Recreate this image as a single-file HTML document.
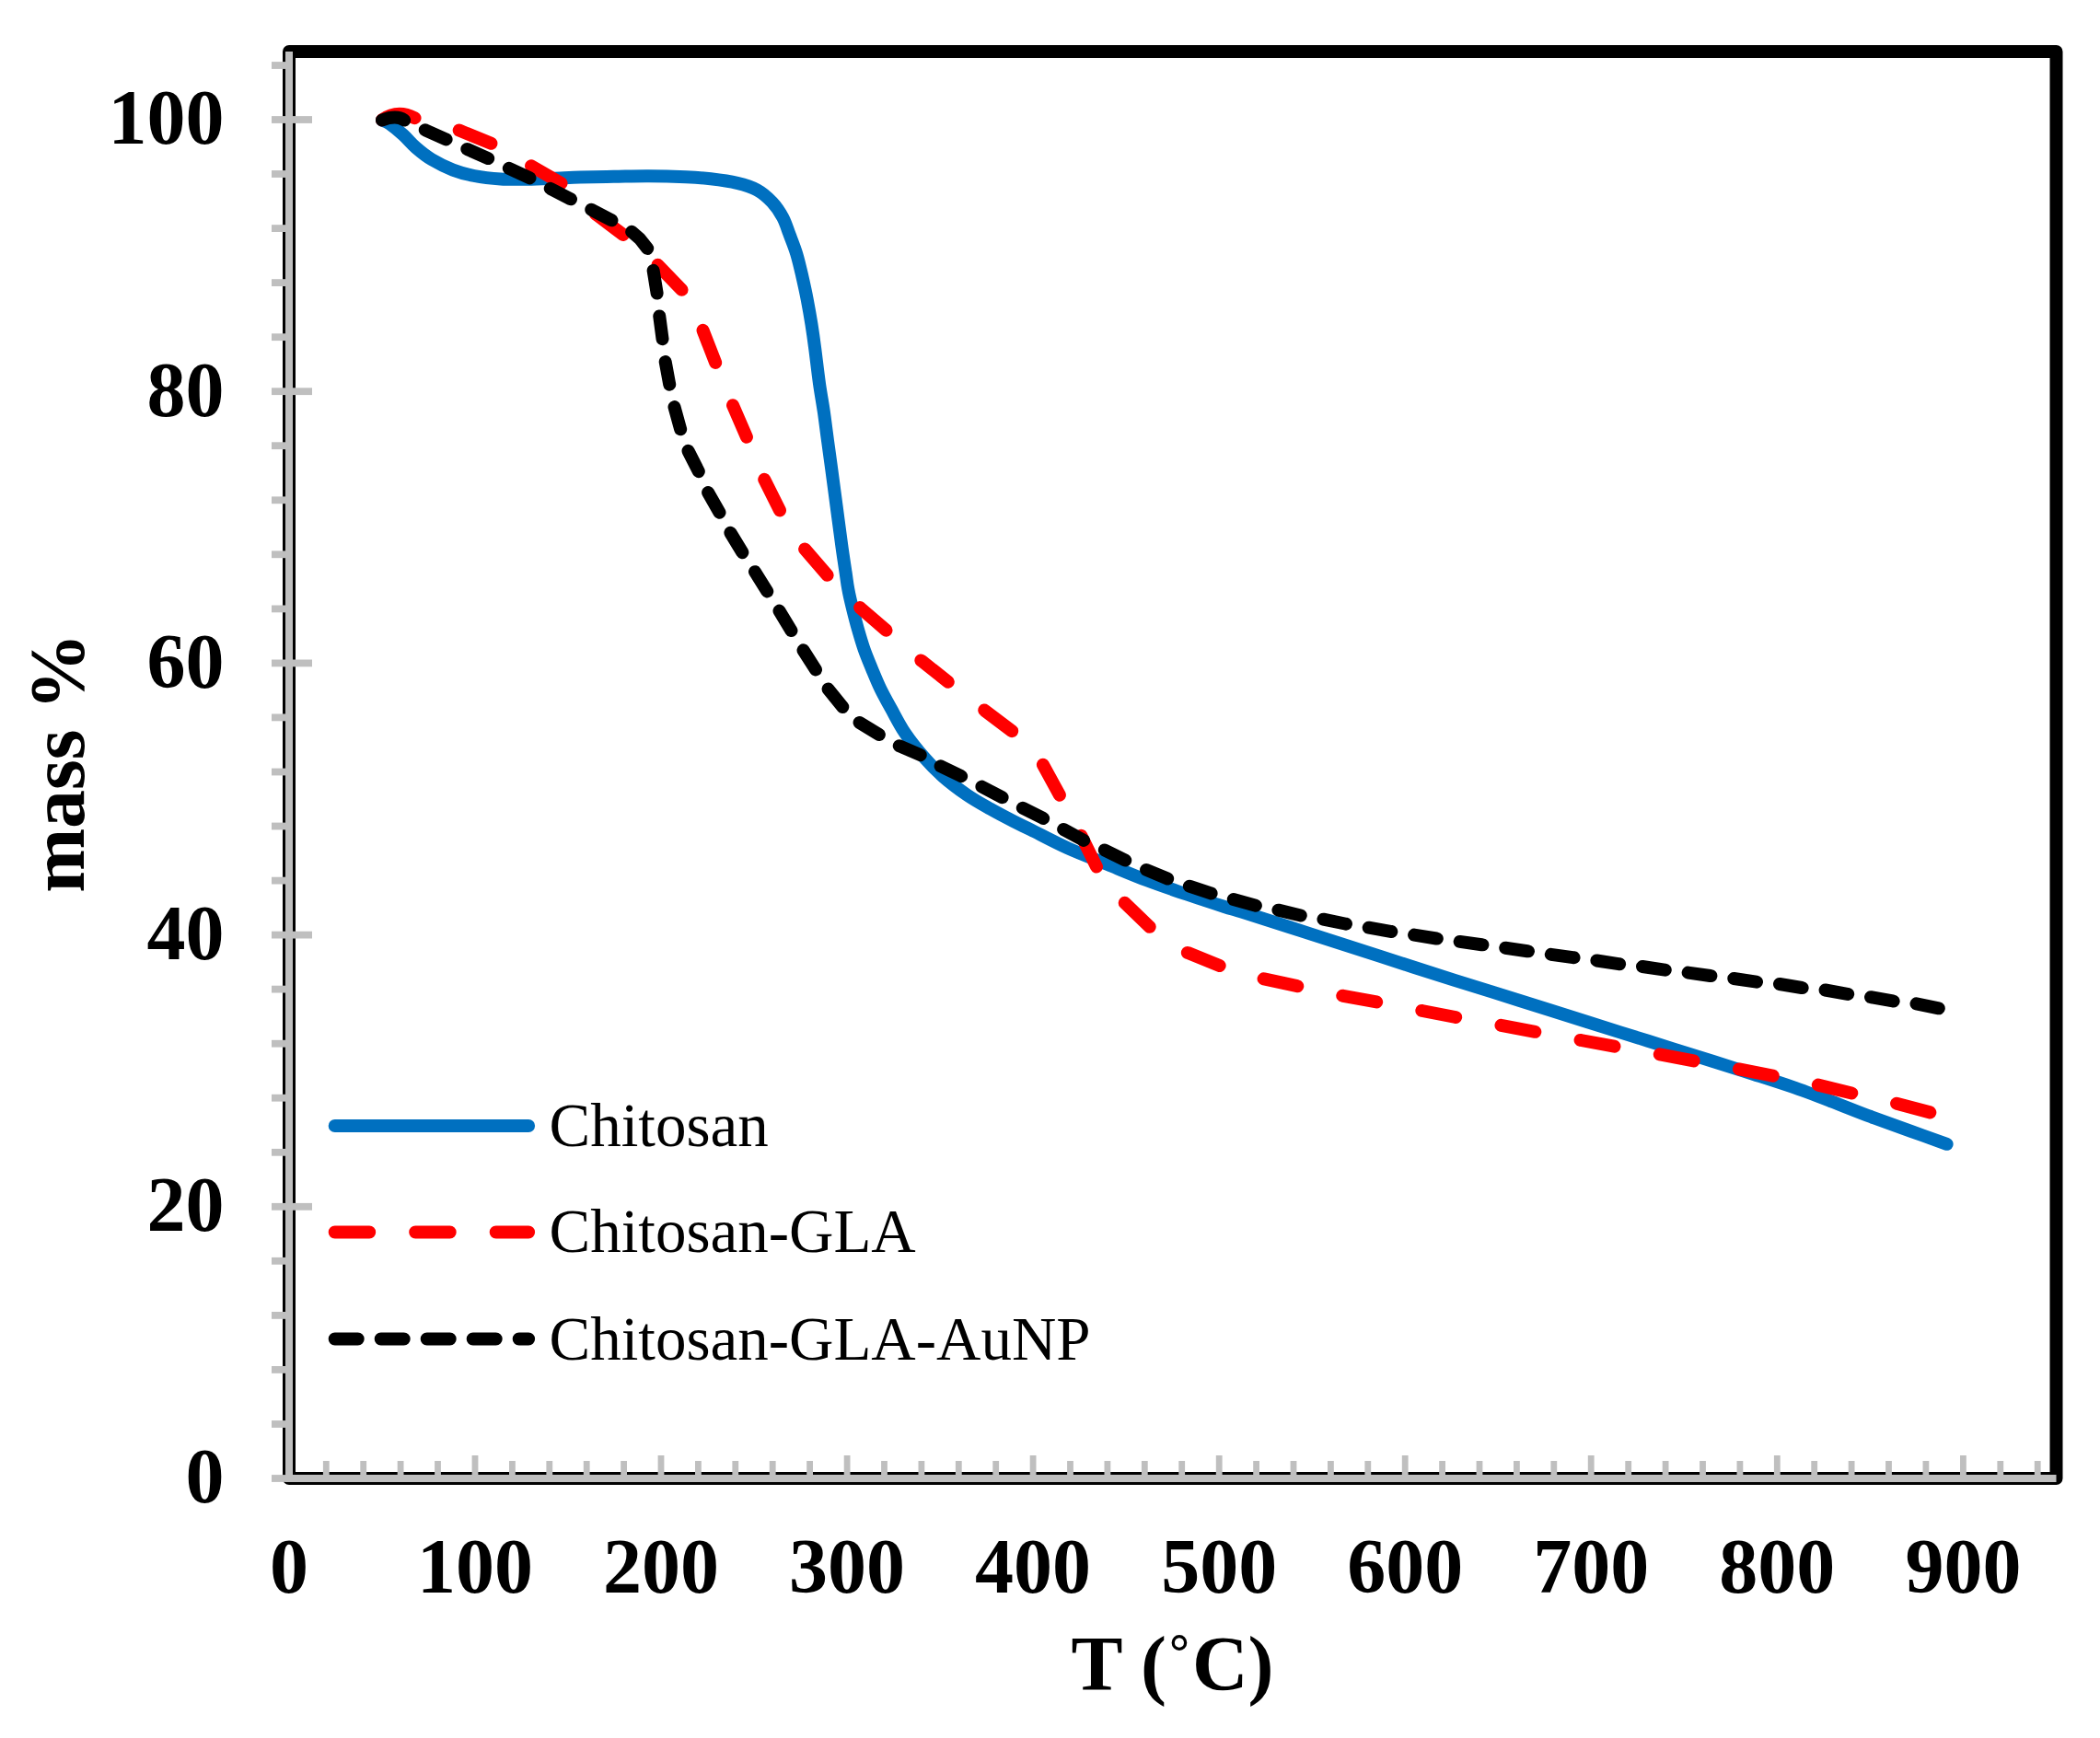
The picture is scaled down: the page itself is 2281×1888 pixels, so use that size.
<!DOCTYPE html><html><head><meta charset="utf-8"><title>TGA</title><style>html,body{margin:0;padding:0;background:#fff}svg{display:block}text{font-family:"Liberation Serif",serif;fill:#000}.b{font-weight:bold;font-size:84px}.l{font-size:67px}</style></head><body>
<svg width="2281" height="1888" viewBox="0 0 2281 1888">
<rect width="2281" height="1888" fill="#fff"/>
<rect x="314.0" y="56.0" width="1919.5" height="1550.0" fill="none" stroke="#000" stroke-width="14" stroke-linejoin="round"/>
<g fill="#bfbfbf"><rect x="295" y="1602.1" width="19" height="7.8"/><rect x="295" y="1543.1" width="19" height="7.8"/><rect x="295" y="1484.0" width="19" height="7.8"/><rect x="295" y="1425.0" width="19" height="7.8"/><rect x="295" y="1365.9" width="19" height="7.8"/><rect x="295" y="1306.9" width="44" height="7.8"/><rect x="295" y="1247.9" width="19" height="7.8"/><rect x="295" y="1188.8" width="19" height="7.8"/><rect x="295" y="1129.8" width="19" height="7.8"/><rect x="295" y="1070.7" width="19" height="7.8"/><rect x="295" y="1011.7" width="44" height="7.8"/><rect x="295" y="952.7" width="19" height="7.8"/><rect x="295" y="893.6" width="19" height="7.8"/><rect x="295" y="834.6" width="19" height="7.8"/><rect x="295" y="775.5" width="19" height="7.8"/><rect x="295" y="716.5" width="44" height="7.8"/><rect x="295" y="657.5" width="19" height="7.8"/><rect x="295" y="598.4" width="19" height="7.8"/><rect x="295" y="539.4" width="19" height="7.8"/><rect x="295" y="480.3" width="19" height="7.8"/><rect x="295" y="421.3" width="44" height="7.8"/><rect x="295" y="362.3" width="19" height="7.8"/><rect x="295" y="303.2" width="19" height="7.8"/><rect x="295" y="244.2" width="19" height="7.8"/><rect x="295" y="185.1" width="19" height="7.8"/><rect x="295" y="126.1" width="44" height="7.8"/><rect x="295" y="67.1" width="19" height="7.8"/><rect x="350.9" y="1587" width="6.8" height="19"/><rect x="391.3" y="1587" width="6.8" height="19"/><rect x="431.7" y="1587" width="6.8" height="19"/><rect x="472.1" y="1587" width="6.8" height="19"/><rect x="512.6" y="1581" width="6.8" height="25"/><rect x="553.0" y="1587" width="6.8" height="19"/><rect x="593.4" y="1587" width="6.8" height="19"/><rect x="633.8" y="1587" width="6.8" height="19"/><rect x="674.2" y="1587" width="6.8" height="19"/><rect x="714.6" y="1581" width="6.8" height="25"/><rect x="755.0" y="1587" width="6.8" height="19"/><rect x="795.4" y="1587" width="6.8" height="19"/><rect x="835.8" y="1587" width="6.8" height="19"/><rect x="876.2" y="1587" width="6.8" height="19"/><rect x="916.7" y="1581" width="6.8" height="25"/><rect x="957.1" y="1587" width="6.8" height="19"/><rect x="997.5" y="1587" width="6.8" height="19"/><rect x="1037.9" y="1587" width="6.8" height="19"/><rect x="1078.3" y="1587" width="6.8" height="19"/><rect x="1118.7" y="1581" width="6.8" height="25"/><rect x="1159.1" y="1587" width="6.8" height="19"/><rect x="1199.5" y="1587" width="6.8" height="19"/><rect x="1239.9" y="1587" width="6.8" height="19"/><rect x="1280.3" y="1587" width="6.8" height="19"/><rect x="1320.8" y="1581" width="6.8" height="25"/><rect x="1361.2" y="1587" width="6.8" height="19"/><rect x="1401.6" y="1587" width="6.8" height="19"/><rect x="1442.0" y="1587" width="6.8" height="19"/><rect x="1482.4" y="1587" width="6.8" height="19"/><rect x="1522.8" y="1581" width="6.8" height="25"/><rect x="1563.2" y="1587" width="6.8" height="19"/><rect x="1603.6" y="1587" width="6.8" height="19"/><rect x="1644.0" y="1587" width="6.8" height="19"/><rect x="1684.4" y="1587" width="6.8" height="19"/><rect x="1724.8" y="1581" width="6.8" height="25"/><rect x="1765.3" y="1587" width="6.8" height="19"/><rect x="1805.7" y="1587" width="6.8" height="19"/><rect x="1846.1" y="1587" width="6.8" height="19"/><rect x="1886.5" y="1587" width="6.8" height="19"/><rect x="1926.9" y="1581" width="6.8" height="25"/><rect x="1967.3" y="1587" width="6.8" height="19"/><rect x="2007.7" y="1587" width="6.8" height="19"/><rect x="2048.1" y="1587" width="6.8" height="19"/><rect x="2088.5" y="1587" width="6.8" height="19"/><rect x="2129.0" y="1581" width="6.8" height="25"/><rect x="2169.4" y="1587" width="6.8" height="19"/><rect x="2209.8" y="1587" width="6.8" height="19"/><rect x="310" y="56.0" width="8" height="1554.0"/><rect x="310" y="1602" width="1923.5" height="8"/></g>
<g fill="none" stroke-width="14" stroke-linecap="round" stroke-linejoin="round">
<path stroke="#0070c0" d="M415.0 130.5 C416.3 131.2 419.2 131.7 423.0 134.4 C426.8 137.1 433.2 142.2 438.0 146.5 C442.8 150.8 446.6 155.9 451.8 160.4 C457.0 164.9 462.3 169.3 469.0 173.3 C475.7 177.3 484.3 181.7 492.0 184.6 C499.7 187.5 506.4 189.3 515.0 191.0 C523.6 192.7 534.2 193.9 543.8 194.5 C553.4 195.1 563.2 194.8 572.6 194.7 C582.0 194.6 590.4 194.2 600.0 193.8 C609.6 193.5 619.0 192.9 630.1 192.6 C641.2 192.3 654.2 192.0 666.7 191.8 C679.2 191.6 691.7 191.1 704.8 191.2 C717.9 191.3 734.0 191.8 745.2 192.3 C756.4 192.8 762.6 193.2 771.9 194.3 C781.1 195.4 792.3 196.9 800.7 198.9 C809.1 200.9 815.9 202.9 822.3 206.4 C828.6 209.9 834.1 214.8 838.8 219.8 C843.5 224.8 847.2 230.5 850.3 236.3 C853.4 242.1 855.1 248.2 857.6 254.8 C860.1 261.4 863.0 268.4 865.2 275.7 C867.4 283.0 869.1 290.4 871.0 298.6 C872.9 306.9 875.0 316.3 876.7 325.2 C878.4 334.1 880.0 343.0 881.4 351.9 C882.8 360.8 883.8 367.8 885.2 378.6 C886.6 389.4 888.4 405.3 890.0 416.7 C891.6 428.1 893.3 436.8 894.8 447.1 C896.3 457.4 897.6 468.6 899.0 478.6 C900.4 488.6 901.6 497.6 902.9 507.1 C904.2 516.6 905.4 526.2 906.7 535.7 C908.0 545.2 909.2 554.8 910.5 564.3 C911.8 573.8 913.0 583.4 914.3 592.9 C915.6 602.4 917.3 613.5 918.5 621.4 C919.7 629.2 920.0 633.4 921.3 640.0 C922.5 646.6 924.2 653.8 926.0 661.0 C927.8 668.2 929.7 675.8 931.8 683.1 C933.9 690.4 936.0 697.8 938.5 705.0 C941.0 712.2 943.9 719.0 946.9 726.3 C949.9 733.5 953.0 741.3 956.5 748.5 C960.0 755.7 963.3 761.5 967.7 769.4 C972.1 777.3 976.8 787.1 982.9 796.1 C989.0 805.1 997.1 815.2 1004.1 823.2 C1011.1 831.2 1017.3 837.4 1025.0 844.1 C1032.7 850.8 1041.9 857.7 1050.3 863.5 C1058.7 869.3 1067.1 873.9 1075.6 878.7 C1084.1 883.5 1093.7 888.5 1101.1 892.3 C1108.5 896.1 1110.3 896.7 1120.0 901.5 C1129.7 906.3 1145.6 914.9 1159.4 921.1 C1173.2 927.3 1188.2 932.9 1202.6 938.8 C1217.0 944.7 1231.3 950.8 1245.7 956.3 C1260.1 961.8 1274.9 966.7 1288.9 971.5 C1303.0 976.3 1319.5 981.7 1330.0 985.0 C1340.5 988.3 1336.3 986.6 1351.9 991.5 C1367.5 996.4 1399.1 1006.6 1423.8 1014.6 C1448.5 1022.6 1474.0 1030.8 1500.0 1039.2 C1526.0 1047.6 1555.0 1056.9 1580.0 1064.8 C1605.0 1072.7 1626.0 1079.2 1650.0 1086.7 C1674.0 1094.2 1700.5 1102.7 1723.8 1110.0 C1747.1 1117.3 1767.3 1123.7 1790.0 1130.8 C1812.7 1137.9 1840.8 1146.8 1860.0 1152.8 C1879.2 1158.8 1890.6 1162.4 1905.0 1167.0 C1919.4 1171.6 1932.2 1175.6 1946.3 1180.5 C1960.4 1185.4 1975.0 1191.0 1989.4 1196.5 C2003.8 1202.0 2018.3 1208.0 2032.6 1213.3 C2046.9 1218.6 2061.3 1223.7 2075.0 1228.6 C2088.7 1233.5 2108.0 1240.4 2114.6 1242.8"/>
<path stroke="#ff0000" stroke-dasharray="37.55 50.05" d="M415.0 130.3 Q431.6 118.6 450.6 128.2 C465.4 135.7 483.2 135.2 498.5 141.5 L533.9 156.0 C549.3 162.3 563.0 172.2 577.4 180.5 L609.5 199.0 C624.7 207.8 635.0 223.4 649.0 234.0 L678.7 256.4 C691.1 265.8 703.0 275.9 713.8 287.1 L741.4 315.7 C752.6 327.3 757.6 343.8 763.5 358.8 L777.4 394.5 C783.3 409.6 789.3 424.6 795.7 439.5 L811.4 475.7 C818.0 490.8 823.1 506.6 830.5 521.4 L847.6 555.7 C854.9 570.3 863.6 584.4 874.3 596.7 L899.0 625.2 C910.0 637.9 922.1 649.7 934.8 660.7 L962.8 684.9 C975.6 696.0 987.9 707.6 1001.2 718.1 L1030.2 741.0 C1043.3 751.3 1056.3 761.7 1069.6 771.8 L1099.1 794.1 C1112.4 804.2 1125.0 816.3 1133.0 830.9 L1151.2 864.2 C1159.1 878.6 1167.1 892.9 1174.3 907.6 L1191.0 941.5 C1198.4 956.5 1209.9 969.4 1221.9 981.0 L1248.6 1006.7 C1260.7 1018.4 1274.7 1028.8 1290.3 1035.1 L1324.7 1049.0 C1340.3 1055.3 1356.6 1059.8 1373.0 1063.4 L1409.0 1071.2 C1425.7 1074.8 1442.2 1078.7 1459.0 1081.8 L1495.1 1088.4 C1511.7 1091.4 1528.2 1094.8 1544.7 1098.0 L1581.0 1105.0 C1597.5 1108.2 1614.0 1110.6 1630.5 1113.8 L1667.6 1120.9 C1684.1 1124.1 1700.6 1126.9 1717.1 1130.0 L1753.3 1136.7 C1769.8 1139.8 1786.4 1142.2 1802.9 1145.4 L1839.5 1152.4 C1855.7 1155.5 1872.1 1158.1 1888.3 1161.3 L1925.5 1168.6 C1941.8 1171.8 1958.2 1174.6 1974.3 1178.5 L2011.5 1187.5 C2027.5 1191.4 2043.7 1194.4 2059.6 1198.6 L2096.4 1208.4"/>
<path stroke="#000" stroke-dasharray="25.03 25.03" d="M415.0 130.5 Q430.6 124.7 439.1 130.5 C446.1 135.2 454.3 137.9 462.0 141.3 L484.4 151.3 C492.1 154.8 499.7 158.6 507.5 162.0 L530.2 172.1 C537.8 175.5 545.2 179.3 552.7 182.8 L575.0 193.2 C582.8 196.8 590.3 201.1 598.0 205.0 L619.8 216.2 C627.2 220.0 634.5 223.8 641.9 227.6 L663.8 239.0 C671.1 242.8 679.2 245.7 685.4 251.1 L695.0 259.5 L703.2 269.9 C708.1 276.2 708.2 285.1 709.5 293.0 L713.6 318.4 C714.9 326.5 715.1 334.8 716.2 343.0 L719.5 367.9 C720.6 375.9 721.0 384.0 722.5 392.0 L727.2 417.4 C728.7 425.4 730.1 433.5 732.3 441.4 L739.3 466.7 C741.5 474.6 743.9 482.6 747.6 490.0 L758.7 511.9 C762.5 519.4 764.9 527.5 769.0 534.8 L781.5 556.7 C785.6 563.9 789.0 571.5 793.3 578.6 L806.3 600.0 C810.5 607.0 815.3 613.6 819.6 620.5 L833.3 642.4 C837.7 649.4 842.0 656.3 846.3 663.3 L859.6 685.2 C863.9 692.2 868.0 699.3 872.4 706.2 L885.7 727.0 C890.4 734.3 894.4 742.1 899.8 748.8 L915.2 767.9 C920.5 774.4 926.5 780.6 933.6 785.0 L954.5 797.8 C961.9 802.3 969.2 807.0 977.1 810.4 L999.2 819.9 C1007.2 823.3 1014.3 828.7 1022.1 832.5 L1043.4 842.8 C1051.2 846.6 1058.8 850.6 1066.4 854.6 L1087.7 865.7 C1095.6 869.8 1103.4 874.1 1111.4 878.1 L1132.4 888.6 C1140.1 892.5 1147.6 896.9 1155.2 901.0 L1176.2 912.4 C1183.7 916.5 1191.8 919.5 1199.5 923.3 L1221.7 934.3 C1229.3 938.1 1237.0 941.5 1244.8 944.8 L1267.6 954.3 C1275.5 957.6 1283.8 960.0 1291.9 962.7 L1315.2 970.4 C1323.2 973.0 1331.4 974.6 1339.5 976.9 L1363.1 983.5 C1371.3 985.8 1379.9 986.6 1388.2 988.6 L1411.8 994.3 C1420.1 996.3 1428.6 996.9 1437.0 998.6 L1461.1 1003.5 C1469.2 1005.2 1477.5 1006.1 1485.7 1007.5 L1510.3 1011.8 C1518.6 1013.3 1527.1 1014.2 1535.4 1015.5 L1560.2 1019.5 C1568.4 1020.8 1576.6 1021.7 1584.8 1022.8 L1609.5 1026.2 C1617.8 1027.3 1626.0 1028.4 1634.3 1029.6 L1659.0 1033.2 C1667.3 1034.4 1675.5 1035.6 1683.8 1036.7 L1708.6 1040.1 C1716.8 1041.2 1725.1 1042.0 1733.3 1043.3 L1758.1 1047.1 C1766.4 1048.4 1774.8 1048.7 1783.1 1049.9 L1808.3 1053.6 C1816.4 1054.8 1824.7 1055.4 1832.8 1056.5 L1857.6 1060.0 C1865.6 1061.1 1873.7 1061.6 1881.7 1062.8 L1907.9 1066.6 C1915.7 1067.7 1923.6 1067.4 1931.3 1068.7 L1957.1 1073.0 C1965.0 1074.3 1973.1 1073.8 1980.9 1075.2 L2006.7 1079.8 C2014.5 1081.2 2022.6 1081.5 2030.4 1082.9 L2055.9 1087.4 C2063.9 1088.8 2072.1 1088.4 2080.0 1090.0 L2105.8 1095.3"/>
<path stroke="#0070c0" d="M363.7 1223H574.1"/>
<path stroke="#ff0000" stroke-dasharray="37.5 50" d="M363.7 1338.5H574.1"/>
<path stroke="#000" stroke-dasharray="25 25" d="M363.7 1454.5H574.1"/>
</g>
<text class="b" x="243.5" y="1632.3" text-anchor="end">0</text>
<text class="b" x="243.5" y="1337.1" text-anchor="end">20</text>
<text class="b" x="243.5" y="1041.9" text-anchor="end">40</text>
<text class="b" x="243.5" y="746.7" text-anchor="end">60</text>
<text class="b" x="243.5" y="451.5" text-anchor="end">80</text>
<text class="b" x="243.5" y="156.3" text-anchor="end">100</text>
<text class="b" x="313.9" y="1730" text-anchor="middle">0</text>
<text class="b" x="516.0" y="1730" text-anchor="middle">100</text>
<text class="b" x="718.0" y="1730" text-anchor="middle">200</text>
<text class="b" x="920.1" y="1730" text-anchor="middle">300</text>
<text class="b" x="1122.1" y="1730" text-anchor="middle">400</text>
<text class="b" x="1324.2" y="1730" text-anchor="middle">500</text>
<text class="b" x="1526.2" y="1730" text-anchor="middle">600</text>
<text class="b" x="1728.2" y="1730" text-anchor="middle">700</text>
<text class="b" x="1930.3" y="1730" text-anchor="middle">800</text>
<text class="b" x="2132.4" y="1730" text-anchor="middle">900</text>
<text class="b" x="1273.5" y="1836" text-anchor="middle">T (<tspan font-weight="normal" dy="2">˚</tspan><tspan dy="-2">C)</tspan></text>
<text class="b" transform="translate(91 828.7) rotate(-90)" text-anchor="middle">mass %</text>
<text class="l" x="596.5" y="1244.5">Chitosan</text>
<text class="l" x="596.5" y="1360">Chitosan-GLA</text>
<text class="l" x="596.5" y="1476.5">Chitosan-GLA-AuNP</text>
</svg></body></html>
